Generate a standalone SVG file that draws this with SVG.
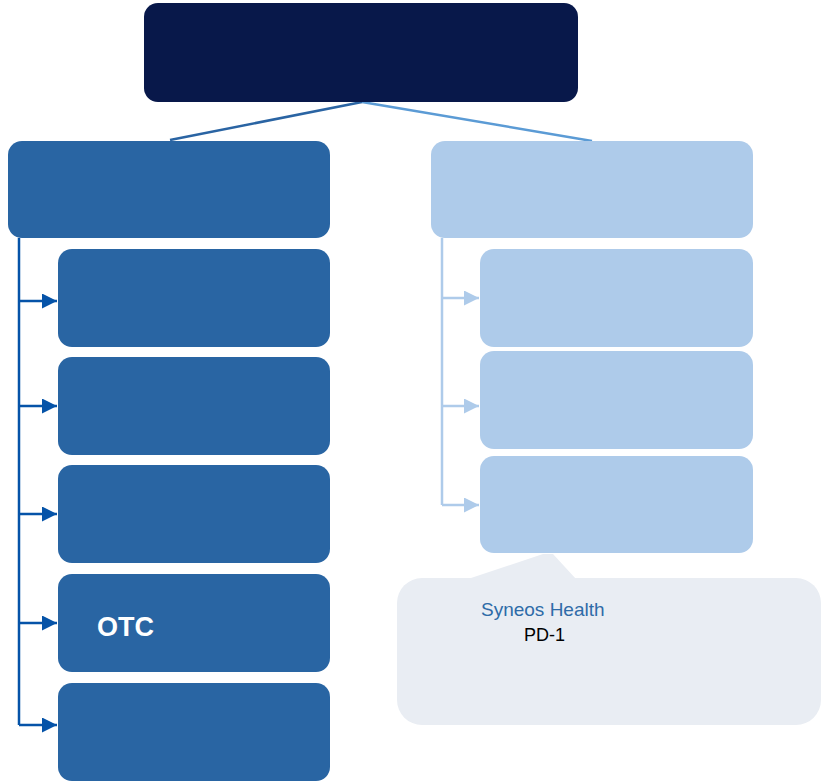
<svg xmlns="http://www.w3.org/2000/svg" width="821" height="782" viewBox="0 0 821 782">
<style>
.dk{fill:#2965a3}
.lt{fill:#aecbea}
.cl{fill:none;stroke:#0553a8;stroke-width:2.5}
.cr{fill:none;stroke:#aecbea;stroke-width:2.5}
text{font-family:"Liberation Sans",Arial,sans-serif}
</style>
<defs>
<marker id="ad" viewBox="0 0 10 10" refX="10" refY="5" markerWidth="15" markerHeight="15" markerUnits="userSpaceOnUse" orient="auto"><path d="M0,0L10,5L0,10z" fill="#0553a8"/></marker>
<marker id="al" viewBox="0 0 10 10" refX="10" refY="5" markerWidth="15" markerHeight="15" markerUnits="userSpaceOnUse" orient="auto"><path d="M0,0L10,5L0,10z" fill="#aecbea"/></marker>
</defs>
<g id="connectors">
<line x1="362" y1="102" x2="170" y2="140" stroke="#2a64a3" stroke-width="2.5"/>
<line x1="362" y1="102" x2="592" y2="141" stroke="#5b9bd5" stroke-width="2.5"/>
<path class="cl" d="M19,238V725"/>
<path class="cl" d="M19,301H57" marker-end="url(#ad)"/>
<path class="cl" d="M19,406H57" marker-end="url(#ad)"/>
<path class="cl" d="M19,514H57" marker-end="url(#ad)"/>
<path class="cl" d="M19,623H57" marker-end="url(#ad)"/>
<path class="cl" d="M19,725H57" marker-end="url(#ad)"/>
<path class="cr" d="M442,238V505"/>
<path class="cr" d="M442,298H479" marker-end="url(#al)"/>
<path class="cr" d="M442,406H479" marker-end="url(#al)"/>
<path class="cr" d="M442,505H479" marker-end="url(#al)"/>
</g>
<g id="top"><rect x="144" y="3" width="434" height="99" rx="14" fill="#08184a"/></g>
<g id="left-header"><rect class="dk" x="8" y="141" width="322" height="97" rx="14"/></g>
<g id="right-header"><rect class="lt" x="431" y="141" width="322" height="97" rx="14"/></g>
<g id="l1"><rect class="dk" x="58" y="249" width="272" height="98" rx="14"/></g>
<g id="l2"><rect class="dk" x="58" y="357" width="272" height="98" rx="14"/></g>
<g id="l3"><rect class="dk" x="58" y="465" width="272" height="98" rx="14"/></g>
<g id="l4"><rect class="dk" x="58" y="574" width="272" height="98" rx="14"/><text x="97" y="636" font-size="27" font-weight="bold" fill="#fff">OTC</text></g>
<g id="l5"><rect class="dk" x="58" y="683" width="272" height="98" rx="14"/></g>
<g id="callout">
<polygon points="468,579 543,554 553,554 576,579" fill="#e9edf3"/>
<rect x="397" y="578" width="424" height="147" rx="25" fill="#e9edf3"/>
<text x="481" y="616" font-size="19" fill="#2e6ba8">Syneos Health</text>
<text x="524" y="641" font-size="18" fill="#000">PD-1</text>
</g>
<g id="r1"><rect class="lt" x="480" y="249" width="273" height="98" rx="14"/></g>
<g id="r2"><rect class="lt" x="480" y="351" width="273" height="98" rx="14"/></g>
<g id="r3"><rect class="lt" x="480" y="456" width="273" height="97" rx="14"/></g>
</svg>
